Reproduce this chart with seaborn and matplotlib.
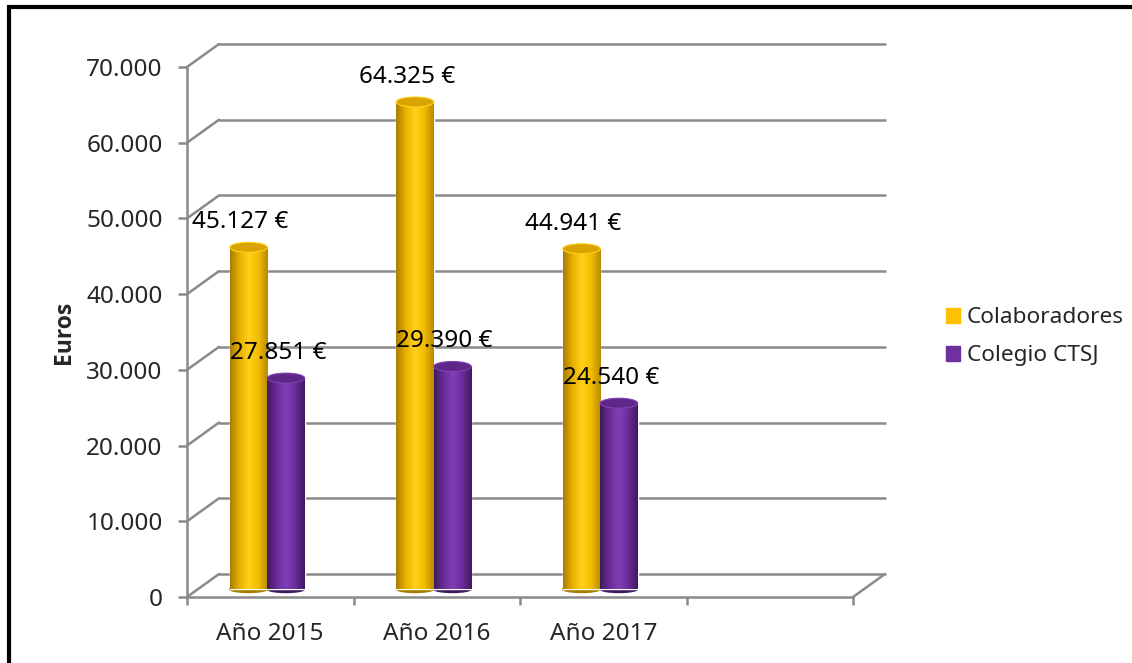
import numpy as np
import pandas as pd
import matplotlib
matplotlib.use("Agg")
import matplotlib.pyplot as plt
import seaborn as sns
from matplotlib.patches import Ellipse, Patch, Rectangle
from matplotlib.colors import LinearSegmentedColormap

# data
years = ["Año 2015", "Año 2016", "Año 2017"]
series = ["Colaboradores", "Colegio CTSJ"]
colaboradores = [45127, 64325, 44941]
colegio = [27851, 29390, 24540]
y_ticks = [0, 10000, 20000, 30000, 40000, 50000, 60000, 70000]

colors = {"Colaboradores": "#FFC000", "Colegio CTSJ": "#7030A0"}
shades = {
    "Colaboradores": ["#A87C00", "#E8B000", "#FFD21A", "#F2BC00", "#B88A00"],
    "Colegio CTSJ": ["#3E1A5E", "#6A2C98", "#8040B8", "#6A2C98", "#40195F"],
}
tops = {"Colaboradores": "#D9A400", "Colegio CTSJ": "#5E2788"}

df = pd.DataFrame({
    "anio": years * 2,
    "serie": [series[0]] * 3 + [series[1]] * 3,
    "euros": colaboradores + colegio,
})

sns.set_style("white")
plt.rcParams["font.family"] = ["Noto Sans", "DejaVu Sans"]

fig = plt.figure(figsize=(11.32, 6.63), dpi=100)
ax = fig.add_axes([187 / 1132, 66 / 663, 666 / 1132, 530 / 663])

order = years + [""]
sns.barplot(data=df, x="anio", y="euros", hue="serie", order=order,
            hue_order=series, palette=colors, saturation=1, width=0.45,
            legend=False, ax=ax, zorder=3)

ymax = 70000
ax.set_xlim(-0.5, 3.5)
ax.set_ylim(0, ymax)

# pixel -> data conversions
px_x = 4 / 666
px_y = ymax / 530
dep_x, dep_y = 32 * px_x, 23 * px_y   # depth of the 3D box
grid_c = "#8A8A8A"

# back wall gridlines and side wall diagonals
for t in y_ticks:
    ax.plot([-0.5 + dep_x, 3.5 + dep_x], [t + dep_y, t + dep_y], color=grid_c,
            lw=1.8, clip_on=False, zorder=1)
    ax.plot([-0.5, -0.5 + dep_x], [t, t + dep_y], color=grid_c, lw=1.8,
            clip_on=False, zorder=1)
ax.plot([3.5, 3.5 + dep_x], [0, dep_y], color=grid_c, lw=1.8, clip_on=False, zorder=1)

# cylinder look for each bar
shift_x, shift_y = -3 * px_x, 8 * px_y
ell_h = 10 * px_y
grad = np.linspace(0, 1, 128).reshape(1, -1)
bars = [p for p in ax.patches if p.get_height() > 0]
for i, p in enumerate(bars):
    name = series[0] if i < len(years) else series[1]
    p.set_x(p.get_x() + shift_x)
    p.set_y(p.get_y() + shift_y)
    x0, w, y0, h = p.get_x(), p.get_width(), p.get_y(), p.get_height()
    cmap = LinearSegmentedColormap.from_list(name, shades[name])
    ax.add_patch(Ellipse((x0 + w / 2, y0), w, ell_h * 0.7, color=shades[name][0], zorder=2))
    im = ax.imshow(grad, cmap=cmap, extent=[x0, x0 + w, y0, y0 + h],
                   aspect="auto", zorder=3)
    im.set_clip_path(p)
    ax.add_patch(Ellipse((x0 + w / 2, y0 + h), w, ell_h, facecolor=tops[name],
                         edgecolor=shades[name][2], lw=0.8, zorder=4))
    label = f"{h:,.0f}".replace(",", ".") + " €"
    ax.text(x0 + w / 2 - 8 * px_x, y0 + h + 25 * px_y, label, ha="center",
            va="center", fontsize=17.5, color="black", zorder=5)

ax.set_xlim(-0.5, 3.5)
ax.set_ylim(0, ymax)

# axes styling
for s in ["top", "right"]:
    ax.spines[s].set_visible(False)
for s in ["left", "bottom"]:
    ax.spines[s].set_color(grid_c)
    ax.spines[s].set_linewidth(1.8)
ax.set_yticks(y_ticks)
ax.set_yticklabels([f"{t:,.0f}".replace(",", ".") for t in y_ticks])
ax.tick_params(axis="y", left=True, length=6.5, width=1.8, color=grid_c,
               pad=11, labelsize=17.5)
ax.set_xticks(np.arange(-0.5, 4, 1))
ax.set_xticklabels([])
ax.set_xticks(range(len(order)), minor=True)
ax.set_xticklabels(order, minor=True)
ax.tick_params(axis="x", which="major", bottom=True, length=6, width=1.8, color=grid_c)
ax.tick_params(axis="x", which="minor", bottom=False, length=0, pad=18, labelsize=17.5)
ax.set_xlabel("")
ax.set_ylabel("Euros", fontsize=16.5, fontweight="bold", labelpad=7,
              family=["Open Sans", "DejaVu Sans"])
ax.grid(False)

handles = [Patch(color=colors[s], label=s) for s in series]
fig.legend(handles=handles, loc="center left", bbox_to_anchor=(0.818, 0.492),
           frameon=False, fontsize=16.3, handlelength=0.6, handleheight=0.6,
           handletextpad=0.3, labelspacing=0.75)

# outer frame (only top and left edges visible)
fig.add_artist(Rectangle((9 / 1132, -0.1), 1.2, 1.1 - 7.5 / 663, fill=False,
                         edgecolor="black", lw=3, transform=fig.transFigure))

fig.savefig("out.png", dpi=100)
